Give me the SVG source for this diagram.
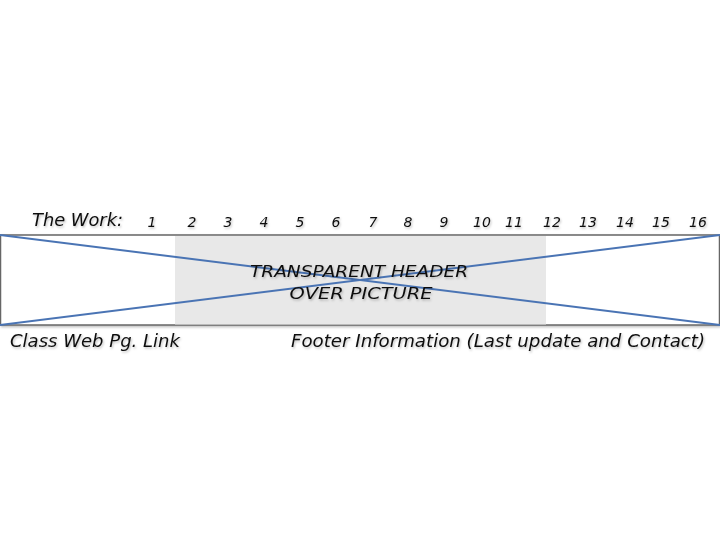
<svg xmlns="http://www.w3.org/2000/svg" width="720" height="540" viewBox="0 0 720 540">
<defs>
<filter id="sh" x="-5%" y="-20%" width="110%" height="150%"><feDropShadow dx="1" dy="1.5" stdDeviation="1" flood-color="#000" flood-opacity="0.25"/></filter>
</defs>
<style>
text{font-family:"DejaVu Sans","Liberation Sans",sans-serif;font-style:italic;fill:#111;}
.num{font-size:14px;text-anchor:middle;}
.lbl{font-size:17px;}
.hdr{font-size:16px;text-anchor:middle;}
.x{stroke:#4a74b4;stroke-width:2;fill:none;}
</style>
<rect width="720" height="540" fill="#fff"/>
<g id="frame" filter="url(#sh)">
<rect x="0.5" y="235" width="719" height="90" fill="#fff" stroke="#666" stroke-width="1.5"/>
<rect x="175" y="236" width="371" height="88.5" fill="#e8e8e8"/>
</g>
<g id="connectors">
<line class="x" x1="0" y1="235" x2="720" y2="325"/>
<line class="x" x1="0" y1="325" x2="720" y2="235"/>
</g>
<g id="title" filter="url(#sh)">
<text class="lbl" x="32" y="226" textLength="91" lengthAdjust="spacingAndGlyphs">The Work:</text>
</g>
<g id="numbers" filter="url(#sh)">
<text class="num" x="152" y="227">1</text>
<text class="num" x="192" y="227">2</text>
<text class="num" x="228" y="227">3</text>
<text class="num" x="264" y="227">4</text>
<text class="num" x="300" y="227">5</text>
<text class="num" x="336" y="227">6</text>
<text class="num" x="373" y="227">7</text>
<text class="num" x="408" y="227">8</text>
<text class="num" x="444" y="227">9</text>
<text class="num" x="482" y="227">10</text>
<text class="num" x="514" y="227">11</text>
<text class="num" x="552" y="227">12</text>
<text class="num" x="588" y="227">13</text>
<text class="num" x="625" y="227">14</text>
<text class="num" x="661" y="227">15</text>
<text class="num" x="698" y="227">16</text>
</g>
<g id="header" filter="url(#sh)">
<text class="hdr" x="359" y="277" textLength="218" lengthAdjust="spacingAndGlyphs">TRANSPARENT HEADER</text>
<text class="hdr" x="361" y="299" textLength="143" lengthAdjust="spacingAndGlyphs">OVER PICTURE</text>
</g>
<g id="footer" filter="url(#sh)">
<text class="lbl" x="10" y="347" textLength="170" lengthAdjust="spacingAndGlyphs">Class Web Pg. Link</text>
<text class="lbl" x="291" y="347" textLength="414" lengthAdjust="spacingAndGlyphs">Footer Information (Last update and Contact)</text>
</g>
</svg>
